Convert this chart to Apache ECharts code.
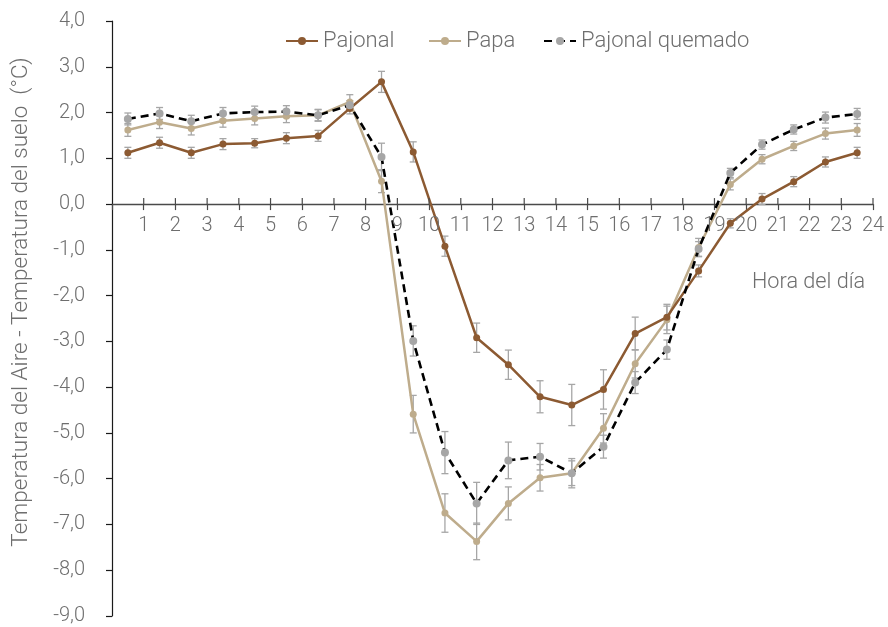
<!DOCTYPE html>
<html>
<head>
<meta charset="utf-8">
<script src="https://cdn.jsdelivr.net/npm/echarts@6/dist/echarts.min.js"></script>
<style>
html,body{margin:0;padding:0;background:#fff;}
#chart{width:888px;height:627px;}
</style>
</head>
<body>
<div id="chart"></div>
<script>
// Hour positions (mid-hour)
const hours = [0.5,1.5,2.5,3.5,4.5,5.5,6.5,7.5,8.5,9.5,10.5,11.5,12.5,13.5,14.5,15.5,16.5,17.5,18.5,19.5,20.5,21.5,22.5,23.5];
const hourTicks = [1,2,3,4,5,6,7,8,9,10,11,12,13,14,15,16,17,18,19,20,21,22,23,24];
const seriesNames = ['Pajonal','Papa','Pajonal quemado'];
const pajonal = [1.12,1.34,1.12,1.31,1.33,1.44,1.49,2.09,2.67,1.14,-0.92,-2.92,-3.51,-4.21,-4.39,-4.05,-2.83,-2.47,-1.46,-0.42,0.11,0.49,0.92,1.12];
const papa = [1.62,1.79,1.65,1.82,1.87,1.92,1.94,2.23,0.50,-4.59,-6.75,-7.37,-6.54,-5.98,-5.88,-4.90,-3.49,-2.53,-0.95,0.43,0.98,1.27,1.54,1.62];
const quemado = [1.86,1.98,1.81,1.98,2.01,2.02,1.94,2.16,1.03,-2.99,-5.43,-6.54,-5.60,-5.52,-5.88,-5.30,-3.90,-3.18,-0.98,0.68,1.30,1.63,1.89,1.97];
const pajonalErr = [0.12,0.12,0.12,0.12,0.10,0.12,0.12,0.12,0.23,0.22,0.22,0.32,0.32,0.35,0.45,0.43,0.36,0.28,0.13,0.10,0.12,0.11,0.11,0.12];
const papaErr = [0.14,0.14,0.14,0.14,0.14,0.14,0.13,0.16,0.25,0.41,0.42,0.40,0.36,0.29,0.27,0.32,0.31,0.30,0.20,0.12,0.10,0.10,0.12,0.14];
const quemadoErr = [0.13,0.13,0.13,0.13,0.13,0.13,0.12,0.10,0.30,0.33,0.46,0.46,0.40,0.29,0.32,0.25,0.24,0.21,0.16,0.10,0.10,0.10,0.12,0.12];

const FONT = 'Roboto';
const TXT = '#6e6e6e';
const C_PAJ = '#8C5A32';
const C_PAPA = '#BEAC8C';
const C_GRAY = '#A6A6A6';
const AXIS_X = '#4a4a4a';

function pairs(vals){ return hours.map((h,i)=>[h, vals[i]]); }
function errData(vals, errs){ return hours.map((h,i)=>[h, vals[i]-errs[i], vals[i]+errs[i]]); }

const allErr = errData(pajonal,pajonalErr).concat(errData(papa,papaErr)).concat(errData(quemado,quemadoErr));

const chart = echarts.init(document.getElementById('chart'), null, {renderer:'canvas'});

const legendCommon = {
  top: 30, itemWidth: 32, itemHeight: 10, padding: 0,
  textStyle: {fontFamily: FONT, fontWeight: 300, fontSize: 22, color: TXT}
};

chart.setOption({
  animation: false,
  backgroundColor: '#fff',
  grid: {left: 112, right: 15, top: 21, bottom: 11, containLabel: false, outerBoundsMode: 'none'},
  legend: [
    Object.assign({left: 285, data: [seriesNames[0]]}, legendCommon),
    Object.assign({left: 428, data: [seriesNames[1]]}, legendCommon),
    Object.assign({left: 543, data: [seriesNames[2]]}, legendCommon)
  ],
  xAxis: {
    type: 'value', min: 0, max: 24, interval: 1,
    axisLine: {onZero: true, lineStyle: {color: AXIS_X, width: 1.3}},
    axisTick: {show: true, inside: false, length: 6, lineStyle: {color: AXIS_X, width: 1.2}},
    splitLine: {show: false},
    axisLabel: {show: false}
  },
  yAxis: {
    type: 'value', min: -9, max: 4, interval: 1,
    axisLine: {show: true, lineStyle: {color: '#1a1a1a', width: 1.2}},
    axisTick: {show: true, inside: false, length: 6, lineStyle: {color: '#1a1a1a', width: 1.2}},
    splitLine: {show: false},
    axisLabel: {
      margin: 27, fontFamily: FONT, fontWeight: 300, fontSize: 20, color: TXT,
      formatter: v => v.toFixed(1).replace('.', ',')
    }
  },
  graphic: [
    {type: 'text', x: 21, y: 302, rotation: Math.PI/2,
     style: {text: 'Temperatura del Aire - Temperatura del suelo  (°C)', fontFamily: FONT, fontWeight: 300, fontSize: 22.5,
       fill: TXT, textAlign: 'center', textVerticalAlign: 'middle'}},
    {type: 'text', x: 752, y: 283,
     style: {text: 'Hora del día', fontFamily: FONT, fontWeight: 300, fontSize: 21.7,
       fill: TXT, textAlign: 'left', textVerticalAlign: 'middle'}}
  ],
  series: [
    {
      // x-axis tick labels next to the zero line + upper halves of crossing ticks
      name: 'xTicks', type: 'custom', z: 5, silent: true,
      data: hourTicks.map(t => [t, 0]),
      renderItem: function(params, api){
        const t = api.value(0);
        const p = api.coord([t, api.value(1)]);
        return {type: 'group', children: [
          {type:'line', shape:{x1:p[0], y1:p[1], x2:p[0], y2:p[1]-6}, style:{stroke: AXIS_X, lineWidth: 1.2}},
          {type:'text', x: p[0], y: p[1] + 12, style:{text: String(t), fontFamily: FONT, fontWeight: 300, fontSize: 20,
            fill: TXT, textAlign: 'center', textVerticalAlign: 'top'}}
        ]};
      }
    },
    {
      name: 'err', type: 'custom', z: 1, silent: true,
      data: allErr,
      encode: {x: 0, y: [1,2]},
      renderItem: function(params, api){
        const x = api.value(0);
        const lo = api.coord([x, api.value(1)]);
        const hi = api.coord([x, api.value(2)]);
        const w = 3.5;
        const st = {stroke: C_GRAY, lineWidth: 1.3};
        return {type: 'group', children: [
          {type:'line', shape:{x1:lo[0], y1:lo[1], x2:hi[0], y2:hi[1]}, style: st},
          {type:'line', shape:{x1:lo[0]-w, y1:lo[1], x2:lo[0]+w, y2:lo[1]}, style: st},
          {type:'line', shape:{x1:hi[0]-w, y1:hi[1], x2:hi[0]+w, y2:hi[1]}, style: st}
        ]};
      }
    },
    {
      name: seriesNames[0], type: 'line', z: 3, data: pairs(pajonal),
      symbol: 'circle', symbolSize: 7, showSymbol: true,
      lineStyle: {color: C_PAJ, width: 2.5},
      itemStyle: {color: C_PAJ}
    },
    {
      name: seriesNames[1], type: 'line', z: 2, data: pairs(papa),
      symbol: 'circle', symbolSize: 7,
      lineStyle: {color: C_PAPA, width: 2.5},
      itemStyle: {color: C_PAPA}
    },
    {
      name: seriesNames[2], type: 'line', z: 4, data: pairs(quemado),
      symbol: 'circle', symbolSize: 8,
      lineStyle: {color: '#000', width: 2.6, type: [8,5]},
      itemStyle: {color: C_GRAY}
    }
  ]
});
</script>
</body>
</html>
